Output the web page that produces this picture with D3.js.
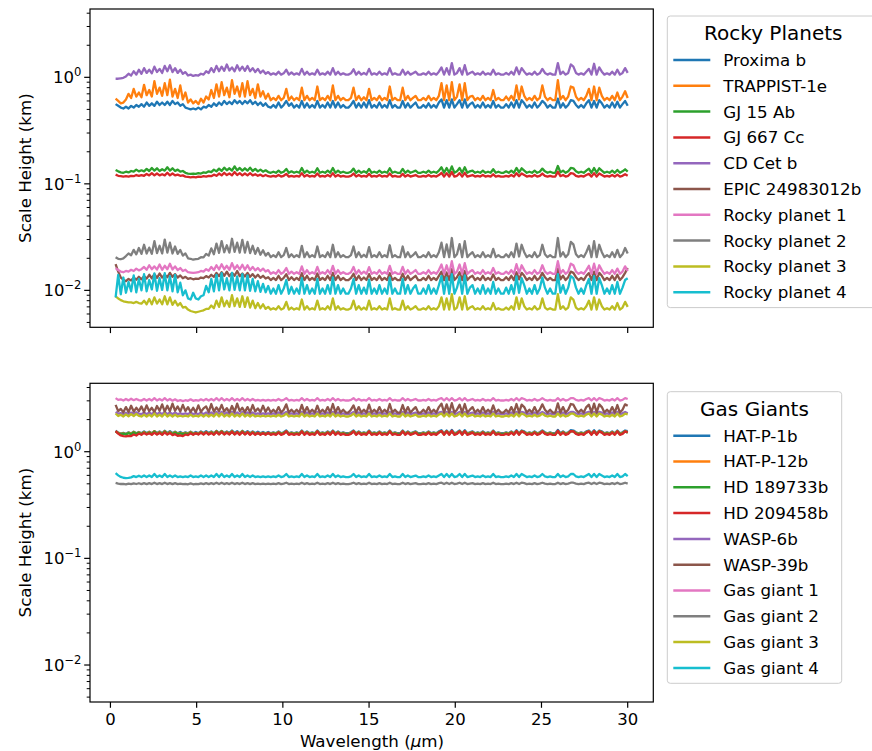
<!DOCTYPE html>
<html>
<head>
<meta charset="utf-8">
<script src="https://cdn.jsdelivr.net/npm/d3@7"></script>
<style>
  body { margin: 0; background: #fff; }
  text { font-family: "DejaVu Sans", sans-serif; fill: #000; }
</style>
</head>
<body>
<div id="chart"></div>
<script>
// Wavelength grid (um): 0.3 to 30 in steps of 0.15 (199 samples)
const wavelength = d3.range(199).map(i => +(0.3 + 0.15 * i).toFixed(2));

const xTicks = [0, 5, 10, 15, 20, 25, 30];
const yTicks = [0.01, 0.1, 1];
const yTickExp = ["\u22122", "\u22121", "0"];

const colors = ["#1f77b4", "#ff7f0e", "#2ca02c", "#d62728", "#9467bd",
                "#8c564b", "#e377c2", "#7f7f7f", "#bcbd22", "#17becf"];

// ---- Rocky planets: scale height, stored as integers in the unit given in rockyUnits (km) ----
const rockyNames = ["Proxima b", "TRAPPIST-1e", "GJ 15 Ab", "GJ 667 Cc", "CD Cet b",
                    "EPIC 24983012b", "Rocky planet 1", "Rocky planet 2", "Rocky planet 3", "Rocky planet 4"];
const rockyUnits = [0.01, 0.01, 0.001, 0.001, 0.01, 1e-4, 1e-4, 1e-4, 1e-4, 1e-4];

const proximaB = [
  56,54,52,51,53,51,54,52,55,53, 56,53,58,54,57,54,59,55,58,55,
  59,55,60,56,58,54,56,52,51,50, 51,50,52,50,53,52,55,53,57,54,
  58,55,60,56,59,56,61,57,60,56, 60,57,61,56,59,55,58,54,57,53,
  52,55,52,58,52,55,60,54,57,52, 55,52,60,52,57,52,55,52,60,52,
  55,52,58,52,60,52,58,52,55,52, 52,55,60,52,57,52,58,52,61,52,
  55,52,58,52,55,52,61,52,55,52, 52,60,52,57,52,55,58,52,52,55,
  52,57,52,55,52,58,62,52,61,52, 62,52,56,61,52,62,52,56,58,52,
  55,52,58,52,55,52,60,52,55,52, 52,56,52,58,52,61,52,61,57,52,
  55,52,58,52,55,60,57,52,55,52, 52,63,52,57,52,55,61,60,55,52,
  55,52,57,61,52,60,52,61,57,52, 55,52,58,52,59,52,56,60,54];

const trappist1e = [
  63,60,57,58,62,70,64,78,66,72, 65,85,68,76,66,92,70,80,67,88,
  68,95,66,78,64,84,62,72,58,62, 57,60,56,63,58,66,62,76,64,86,
  66,90,68,80,65,94,70,82,66,88, 66,92,68,78,64,86,66,74,63,70,
  61,64,61,67,61,64,78,61,66,61, 64,61,80,61,67,61,64,61,82,61,
  64,61,67,61,84,61,67,61,64,61, 61,64,80,61,67,61,65,61,78,61,
  64,61,67,61,64,61,82,61,64,61, 61,80,61,67,61,64,67,61,61,64,
  61,67,61,64,61,67,88,61,84,61, 90,61,66,86,61,88,61,66,67,61,
  64,61,67,61,64,61,76,61,64,61, 61,66,61,67,61,84,62,82,67,61,
  64,61,67,61,64,84,66,61,64,61, 61,94,62,67,61,66,82,80,66,61,
  64,61,67,78,61,82,61,80,67,61, 64,61,67,61,72,61,66,74,64];

const gj15Ab = [
  135,131,128,127,130,128,132,130,136,131, 134,131,138,132,141,133,140,132,137,133,
  143,133,140,132,136,130,132,127,125,124, 125,124,126,125,128,127,131,129,136,131,
  139,132,142,134,140,133,146,134,141,133, 140,133,142,132,138,131,136,130,134,129,
  127,130,127,133,127,130,138,127,131,127, 130,127,141,127,133,127,130,127,140,127,
  130,127,133,127,141,127,133,127,130,127, 127,130,139,127,133,127,131,127,138,127,
  130,127,133,127,130,127,140,127,130,127, 127,138,127,133,127,130,133,127,127,130,
  127,133,127,130,127,133,143,127,141,127, 146,127,131,141,127,143,127,131,133,127,
  130,127,133,127,130,127,137,127,130,127, 127,131,127,133,127,141,128,140,133,127,
  130,127,133,127,130,139,131,127,130,127, 127,147,128,133,127,131,141,140,131,127,
  130,127,133,139,127,141,127,140,133,127, 130,127,133,127,135,127,131,137,130];

const gj667Cc = [
  122,119,118,117,118,117,119,118,121,119, 121,119,124,120,126,120,125,120,123,120,
  127,120,125,120,122,119,120,117,116,115, 116,115,117,116,118,117,119,118,122,119,
  125,120,127,121,125,120,129,121,126,120, 125,120,126,120,123,119,122,118,121,118,
  117,119,117,121,117,119,124,117,119,117, 119,117,126,117,121,117,119,117,125,117,
  119,117,121,117,126,117,121,117,119,117, 117,119,125,117,121,117,119,117,124,117,
  119,117,121,117,119,117,125,117,119,117, 117,124,117,121,117,119,121,117,117,119,
  117,121,117,119,117,121,127,117,126,117, 129,117,119,126,117,127,117,119,121,117,
  119,117,121,117,119,117,123,117,119,117, 117,119,117,121,117,126,118,125,121,117,
  119,117,121,117,119,125,119,117,119,117, 117,130,118,121,117,119,126,125,119,117,
  119,117,121,124,117,126,117,125,121,117, 119,117,121,117,122,117,119,123,119];

const cdCetB = [
  97,97,98,99,102,108,104,114,106,118, 108,122,110,118,109,126,112,120,110,128,
  114,130,112,122,110,118,108,112,104,106, 103,105,104,108,106,114,110,122,112,128,
  114,126,115,132,116,124,114,130,116,126, 115,128,114,122,112,120,110,116,108,112,
  106,109,106,113,106,109,118,106,111,106, 109,106,120,106,113,106,109,106,118,106,
  109,106,113,106,122,106,113,106,109,106, 106,109,119,106,113,106,110,106,120,106,
  109,106,113,106,109,106,122,106,109,106, 106,118,106,113,106,109,113,106,106,109,
  106,113,106,109,106,113,124,106,122,106, 136,106,110,122,106,130,106,110,113,106,
  109,106,113,106,109,106,118,106,109,106, 106,110,106,113,106,124,107,122,113,106,
  109,106,113,106,109,120,110,106,109,106, 106,136,107,113,106,110,132,126,110,106,
  109,106,113,120,106,134,106,124,113,106, 109,106,113,106,118,106,110,122,110];

const epic24983012b = [
  176,150,132,126,122,128,124,132,126,134, 127,136,129,140,130,142,131,144,132,140,
  133,146,134,142,132,138,130,134,128,130, 127,129,128,132,130,136,132,140,134,146,
  136,148,137,150,136,146,137,152,136,144, 135,146,134,142,132,140,131,137,129,133,
  125,131,125,137,125,131,142,125,133,125, 131,125,145,125,137,125,131,125,144,125,
  131,125,137,125,146,125,137,125,131,125, 125,131,143,125,137,125,132,125,142,125,
  131,125,137,125,131,125,145,125,131,125, 125,143,125,137,125,131,137,125,125,131,
  125,137,125,131,125,137,150,125,147,125, 158,125,133,148,125,152,125,133,137,125,
  131,125,137,125,131,125,141,125,131,125, 125,133,125,137,125,148,127,146,137,125,
  131,125,137,125,131,146,133,125,131,125, 125,160,127,137,125,133,150,146,133,125,
  131,125,137,145,125,150,125,146,137,125, 131,125,137,125,140,125,133,146,162];

const rocky1 = [
  162,155,150,148,152,150,156,152,160,154, 158,166,156,172,158,168,157,175,156,170,
  158,178,157,168,155,162,152,156,148,147, 146,147,148,152,150,158,153,166,155,172,
  157,176,158,170,156,180,158,172,157,174, 156,172,155,166,154,162,152,160,150,155,
  143,148,143,155,143,148,162,143,150,143, 148,143,168,143,155,143,148,143,166,143,
  148,143,155,143,170,143,155,143,148,143, 143,148,166,143,155,143,150,143,165,143,
  148,143,155,143,148,143,170,143,148,143, 143,166,143,155,143,148,155,143,143,148,
  143,155,143,148,143,155,175,143,172,143, 188,143,150,175,143,180,143,150,155,143,
  148,143,155,143,148,143,162,143,148,143, 143,150,143,155,143,176,145,172,155,143,
  148,143,155,143,148,172,150,143,148,143, 143,188,145,155,143,150,178,172,150,143,
  148,143,155,170,143,178,143,172,155,143, 148,143,155,143,160,143,150,168,152];

const rocky2 = [
  205,198,196,200,210,222,214,240,218,250, 220,268,222,252,220,290,224,262,222,300,
  226,280,222,258,220,240,212,222,200,198, 194,196,198,205,204,220,212,248,218,275,
  225,290,228,265,226,305,230,280,226,298, 226,285,224,262,220,250,216,238,212,225,
  205,214,205,228,205,214,250,205,218,205, 214,205,262,205,228,205,214,205,258,205,
  214,205,228,205,268,205,228,205,214,205, 205,214,258,205,228,205,216,205,255,205,
  214,205,228,205,214,205,265,205,214,205, 205,258,205,228,205,214,228,205,205,214,
  205,228,205,214,205,228,280,205,270,205, 310,205,218,272,205,290,205,218,228,205,
  214,205,228,205,214,205,245,205,214,205, 205,218,205,228,205,275,208,268,228,205,
  214,205,228,205,214,268,218,205,214,205, 205,310,208,228,205,218,285,270,218,205,
  214,205,228,262,205,290,205,268,228,205, 214,205,228,205,240,205,218,250,222];

const rocky3 = [
  88,84,81,79,78,77,77,76,78,76, 75,80,74,83,74,86,75,82,74,88,
  74,86,73,80,72,76,69,70,66,64, 63,62,63,64,65,67,67,72,68,80,
  70,86,71,80,70,90,71,84,70,88, 70,86,69,80,68,76,68,74,67,70,
  66,68,66,71,66,68,78,66,69,66, 68,66,82,66,71,66,68,66,80,66,
  68,66,71,66,84,66,71,66,68,66, 66,68,80,66,71,66,69,66,80,66,
  68,66,71,66,68,66,84,66,68,66, 66,80,66,71,66,68,71,66,66,68,
  66,71,66,68,66,71,86,66,84,66, 92,66,69,86,66,88,66,69,71,66,
  68,66,71,66,68,66,76,66,68,66, 66,69,66,71,66,86,67,84,71,66,
  68,66,71,66,68,84,69,66,68,66, 66,92,67,71,66,69,86,82,69,66,
  68,66,71,80,66,86,66,82,71,66, 68,66,71,66,76,66,69,78,70];

const rocky4 = [
  86,140,92,132,95,120,98,138,96,128, 100,142,98,125,102,144,99,130,101,145,
  100,136,98,140,96,118,90,100,84,82, 95,84,82,88,90,110,96,128,98,140,
  100,145,102,130,100,146,101,135,100,142, 100,138,99,128,98,122,97,115,96,110,
  93,104,93,112,93,104,125,93,108,93, 104,93,130,93,112,93,104,93,128,93,
  104,93,112,93,132,93,112,93,104,93, 93,104,128,93,112,93,106,93,126,93,
  104,93,112,93,104,93,132,93,104,93, 93,128,93,112,93,104,112,93,93,104,
  93,112,93,104,93,112,136,93,132,93, 142,93,106,134,93,138,93,106,112,93,
  104,93,112,93,104,93,120,93,104,93, 93,106,93,112,93,135,95,130,112,93,
  104,93,112,93,104,132,106,93,104,93, 93,142,95,112,93,106,136,130,106,93,
  104,93,112,128,93,136,93,130,112,93, 104,93,112,93,120,93,106,125,130];

// ---- Gas giants: scale height, stored as integers in the unit given in gasUnits (km) ----
const gasNames = ["HAT-P-1b", "HAT-P-12b", "HD 189733b", "HD 209458b", "WASP-6b",
                  "WASP-39b", "Gas giant 1", "Gas giant 2", "Gas giant 3", "Gas giant 4"];
const gasUnits = [0.01, 0.01, 0.01, 0.01, 0.01, 0.01, 0.01, 0.001, 0.01, 0.001];

const hatP1b = [
  158,151,148,150,147,152,148,154,149,153, 149,155,150,154,149,156,150,155,149,157,
  150,156,149,154,149,153,148,152,149,154, 149,153,149,155,150,156,150,155,149,157,
  150,157,150,155,150,158,150,156,149,157, 150,156,149,155,149,154,149,153,149,153,
  149,152,149,155,149,152,158,149,152,149, 152,149,158,149,155,149,152,149,158,149,
  152,149,155,149,158,149,155,149,152,149, 149,152,158,149,155,149,152,149,158,149,
  152,149,155,149,152,149,158,149,152,149, 149,158,149,155,149,152,155,149,149,152,
  149,155,149,152,149,155,159,149,158,149, 160,149,152,158,149,159,149,152,155,149,
  152,149,155,149,152,149,158,149,152,149, 149,152,149,155,149,159,149,158,155,149,
  152,149,155,149,152,158,152,149,152,149, 149,160,149,155,149,152,159,158,152,149,
  152,149,155,158,149,159,149,158,155,149, 152,149,155,149,158,149,152,158,156];

const hatP12b = [
  156,150,147,149,146,151,147,153,148,152, 147,153,147,153,147,156,147,153,147,156,
  147,153,147,153,147,150,147,150,147,153, 147,150,147,153,147,153,147,153,147,156,
  147,156,147,153,147,156,147,153,147,156, 147,153,147,153,147,150,147,150,147,150,
  147,150,147,153,147,150,156,147,150,147, 150,147,156,147,153,147,150,147,156,147,
  150,147,153,147,156,147,153,147,150,147, 147,150,156,147,153,147,150,147,156,147,
  150,147,153,147,150,147,156,147,150,147, 147,156,147,153,147,150,153,147,147,150,
  147,153,147,150,147,153,156,147,156,147, 156,147,150,156,147,156,147,150,153,147,
  150,147,153,147,150,147,156,147,150,147, 147,150,147,153,147,156,147,156,153,147,
  150,147,153,147,150,156,150,147,150,147, 147,156,147,153,147,150,156,156,150,147,
  150,147,153,156,147,156,147,156,153,147, 150,147,153,147,156,147,150,156,152];

const hd189733b = [
  155,149,146,148,145,150,146,152,147,151, 146,152,146,152,146,155,146,152,146,155,
  146,152,146,152,146,149,146,149,146,152, 146,149,146,152,146,152,146,152,146,155,
  146,155,146,152,146,155,146,152,146,155, 146,152,146,152,146,149,146,149,146,149,
  146,149,146,152,146,149,155,146,149,146, 149,146,155,146,152,146,149,146,155,146,
  149,146,152,146,155,146,152,146,149,146, 146,149,155,146,152,146,149,146,155,146,
  149,146,152,146,149,146,155,146,149,146, 146,155,146,152,146,149,152,146,146,149,
  146,152,146,149,146,152,155,146,155,146, 155,146,149,155,146,155,146,149,152,146,
  149,146,152,146,149,146,155,146,149,146, 146,149,146,152,146,155,146,155,152,146,
  149,146,152,146,149,155,149,146,149,146, 146,155,146,152,146,149,155,155,149,146,
  149,146,152,155,146,155,146,155,152,146, 149,146,152,146,155,146,149,155,151];

const hd209458b = [
  156,148,142,140,139,141,140,145,142,148, 144,150,145,149,144,151,145,150,144,152,
  145,150,143,146,141,142,140,145,143,149, 144,149,145,151,145,152,145,150,144,153,
  145,153,145,151,145,154,145,152,144,153, 145,152,144,151,144,150,144,149,144,150,
  144,147,144,151,144,147,155,144,147,144, 147,144,155,144,151,144,147,144,155,144,
  147,144,151,144,155,144,151,144,147,144, 144,147,155,144,151,144,147,144,155,144,
  147,144,151,144,147,144,155,144,147,144, 144,155,144,151,144,147,151,144,144,147,
  144,151,144,147,144,151,156,144,155,144, 157,144,147,155,144,156,144,147,151,144,
  147,144,151,144,147,144,155,144,147,144, 144,147,144,151,144,156,144,155,151,144,
  147,144,151,144,147,155,147,144,147,144, 144,157,144,151,144,147,156,155,147,144,
  147,144,151,155,144,156,144,155,151,144, 147,144,151,144,155,144,147,155,152];

const wasp6b = [
  236,227,230,225,232,226,233,227,234,228, 225,233,225,233,225,236,225,233,225,236,
  225,233,225,233,225,229,225,229,225,233, 225,229,225,233,225,233,225,233,225,236,
  225,236,225,233,225,236,225,233,225,236, 225,233,225,233,225,229,225,229,225,229,
  225,229,225,233,225,229,236,225,229,225, 229,225,236,225,233,225,229,225,236,225,
  229,225,233,225,236,225,233,225,229,225, 225,229,236,225,233,225,229,225,236,225,
  229,225,233,225,229,225,236,225,229,225, 225,236,225,233,225,229,233,225,225,229,
  225,233,225,229,225,233,236,225,236,225, 236,225,229,236,225,236,225,229,233,225,
  229,225,233,225,229,225,236,225,229,225, 225,229,225,233,225,236,225,236,233,225,
  229,225,233,225,229,236,229,225,229,225, 225,236,225,233,225,229,236,236,229,225,
  229,225,233,236,225,236,225,236,233,225, 229,225,233,225,236,225,229,236,229];

const wasp39b = [
  275,240,252,234,262,236,270,238,258,240, 266,236,272,240,258,235,268,242,278,238,
  270,240,282,242,266,238,275,240,262,236, 258,234,272,236,255,266,235,280,238,260,
  240,275,238,256,234,268,236,282,240,258, 235,262,234,274,238,255,235,270,236,260,
  233,248,233,262,233,248,278,233,248,233, 248,233,275,233,262,233,248,233,270,233,
  248,233,262,233,280,233,262,233,248,233, 233,248,272,233,262,233,248,233,276,233,
  248,233,262,233,248,233,280,233,248,233, 233,274,233,262,233,248,262,233,233,248,
  233,262,233,248,233,262,282,233,278,233, 285,233,248,276,233,280,233,248,262,233,
  248,233,262,233,248,233,272,233,248,233, 233,248,233,262,233,280,233,276,262,233,
  248,233,262,233,248,278,248,233,248,233, 233,284,233,262,233,248,280,276,248,233,
  248,233,262,276,233,282,233,278,262,233, 248,233,262,233,274,233,248,278,270];

const gasGiant1 = [
  318,306,310,302,312,303,314,304,312,305, 302,312,302,312,302,318,302,312,302,318,
  302,312,301,310,299,305,298,304,300,310, 300,305,301,310,302,312,302,312,302,318,
  302,318,302,312,302,318,302,312,302,318, 302,312,302,312,302,306,302,306,302,306,
  302,306,302,312,302,306,318,302,306,302, 306,302,318,302,312,302,306,302,318,302,
  306,302,312,302,318,302,312,302,306,302, 302,306,318,302,312,302,306,302,318,302,
  306,302,312,302,306,302,318,302,306,302, 302,318,302,312,302,306,312,302,302,306,
  302,312,302,306,302,312,318,302,318,302, 318,302,306,318,302,318,302,306,312,302,
  306,302,312,302,306,302,318,302,306,302, 302,306,302,312,302,318,302,318,312,302,
  306,302,312,302,306,318,306,302,306,302, 302,318,302,312,302,306,318,318,306,302,
  306,302,312,318,302,318,302,318,312,302, 306,302,312,302,318,302,306,318,312];

const gasGiant2 = [
  510,502,498,500,495,503,497,505,498,506, 497,507,497,507,497,512,497,507,497,512,
  497,507,497,507,497,502,496,500,495,505, 495,500,496,504,497,507,497,507,497,512,
  497,512,497,507,497,512,497,507,497,512, 497,507,497,507,497,502,497,502,497,502,
  497,502,497,507,497,502,512,497,502,497, 502,497,512,497,507,497,502,497,512,497,
  502,497,507,497,512,497,507,497,502,497, 497,502,512,497,507,497,502,497,512,497,
  502,497,507,497,502,497,512,497,502,497, 497,512,497,507,497,502,507,497,497,502,
  497,507,497,502,497,507,512,497,512,497, 512,497,502,512,497,512,497,502,507,497,
  502,497,507,497,502,497,512,497,502,497, 497,502,497,507,497,512,497,512,507,497,
  502,497,507,497,502,512,502,497,502,497, 497,512,497,507,497,502,512,512,502,497,
  502,497,507,512,497,512,497,512,507,497, 502,497,507,497,512,497,502,512,502];

const gasGiant3 = [
  228,216,222,214,224,215,225,216,226,217, 214,223,214,223,214,228,214,223,214,228,
  214,223,214,223,214,218,214,218,214,223, 214,218,214,223,214,223,214,223,214,228,
  214,228,214,223,214,228,214,223,214,228, 214,223,214,223,214,218,214,218,214,218,
  214,218,214,223,214,218,228,214,218,214, 218,214,228,214,223,214,218,214,228,214,
  218,214,223,214,228,214,223,214,218,214, 214,218,228,214,223,214,218,214,228,214,
  218,214,223,214,218,214,228,214,218,214, 214,228,214,223,214,218,223,214,214,218,
  214,223,214,218,214,223,228,214,228,214, 228,214,218,228,214,228,214,218,223,214,
  218,214,223,214,218,214,228,214,218,214, 214,218,214,223,214,228,214,228,223,214,
  218,214,223,214,218,228,218,214,218,214, 214,228,214,223,214,218,228,228,218,214,
  218,214,223,228,214,228,214,228,223,214, 218,214,223,214,228,214,218,228,224];

const gasGiant4 = [
  630,600,580,570,565,568,575,590,578,595, 578,598,578,598,578,618,578,598,578,618,
  578,598,578,598,578,588,578,588,578,598, 578,588,578,598,578,598,578,598,578,618,
  578,618,578,598,578,618,578,598,578,618, 578,598,578,598,578,588,578,588,578,588,
  578,588,578,598,578,588,618,578,588,578, 588,578,618,578,598,578,588,578,618,578,
  588,578,598,578,618,578,598,578,588,578, 578,588,618,578,598,578,588,578,618,578,
  588,578,598,578,588,578,618,578,588,578, 578,618,578,598,578,588,598,578,578,588,
  578,598,578,588,578,598,618,578,618,578, 618,578,588,618,578,618,578,588,598,578,
  588,578,598,578,588,578,618,578,588,578, 578,588,578,598,578,618,578,618,598,578,
  588,578,598,578,588,618,588,578,588,578, 578,618,578,598,578,588,618,618,588,578,
  588,578,598,618,578,618,578,618,598,578, 588,578,598,578,618,578,588,618,590];

const rockySeries = [proximaB, trappist1e, gj15Ab, gj667Cc, cdCetB,
                     epic24983012b, rocky1, rocky2, rocky3, rocky4];
const gasSeries = [hatP1b, hatP12b, hd189733b, hd209458b, wasp6b,
                   wasp39b, gasGiant1, gasGiant2, gasGiant3, gasGiant4];

// ---- Layout ----
const width = 872, height = 751;
const svg = d3.select("#chart").append("svg")
  .attr("width", width)
  .attr("height", height);

const x = d3.scaleLinear().domain([-1.185, 31.485]).range([90, 653.3]);

const panels = [
  { names: rockyNames, series: rockySeries, units: rockyUnits, top: 9, bottom: 327.3,
    title: "Rocky Planets", legendTop: 16, legendW: 212, showX: false },
  { names: gasNames, series: gasSeries, units: gasUnits, top: 383.3, bottom: 702,
    title: "Gas Giants", legendTop: 391.7, legendW: 174.4, showX: true }
];

panels.forEach(p => {
  const y = d3.scaleLog().domain([0.0045, 4.38]).range([p.bottom, p.top]);
  const g = svg.append("g");

  // spectra
  const line = d3.line()
    .defined((d, i) => i < wavelength.length)
    .x((d, i) => x(wavelength[i]))
    .y(d => y(d));

  p.series.forEach((s, k) => {
    const vals = s.map(v => v * p.units[k]);
    g.append("path")
      .datum(vals)
      .attr("d", line)
      .attr("fill", "none")
      .attr("stroke", colors[k])
      .attr("stroke-width", 2.3)
      .attr("stroke-linejoin", "round");
  });

  // frame
  g.append("rect")
    .attr("x", x.range()[0])
    .attr("y", p.top)
    .attr("width", x.range()[1] - x.range()[0])
    .attr("height", p.bottom - p.top)
    .attr("fill", "none")
    .attr("stroke", "#000")
    .attr("stroke-width", 1.2);

  // x ticks
  xTicks.forEach(t => {
    g.append("line")
      .attr("x1", x(t)).attr("x2", x(t))
      .attr("y1", p.bottom).attr("y2", p.bottom + 5.8)
      .attr("stroke", "#000").attr("stroke-width", 1.2);
    if (p.showX) {
      g.append("text")
        .attr("x", x(t)).attr("y", p.bottom + 22.5)
        .attr("text-anchor", "middle")
        .style("font-size", "16.5px")
        .text(t);
    }
  });

  // y minor ticks
  const [lo, hi] = y.domain();
  for (let e = -3; e <= 0; e++) {
    for (let m = 2; m <= 9; m++) {
      const v = m * Math.pow(10, e);
      if (v < lo || v > hi) continue;
      g.append("line")
        .attr("x1", 90).attr("x2", 90 - 3.3)
        .attr("y1", y(v)).attr("y2", y(v))
        .attr("stroke", "#000").attr("stroke-width", 1);
    }
  }

  // y major ticks and labels
  yTicks.forEach((t, i) => {
    g.append("line")
      .attr("x1", 90).attr("x2", 90 - 5.8)
      .attr("y1", y(t)).attr("y2", y(t))
      .attr("stroke", "#000").attr("stroke-width", 1.2);
    const lbl = g.append("text")
      .attr("x", 81.5).attr("y", y(t) + 6)
      .attr("text-anchor", "end")
      .style("font-size", "16.5px");
    lbl.append("tspan").text("10");
    lbl.append("tspan")
      .attr("dy", -7)
      .style("font-size", "11.6px")
      .text(yTickExp[i]);
  });

  // y label
  g.append("text")
    .attr("transform", `translate(31,${(p.top + p.bottom) / 2}) rotate(-90)`)
    .attr("text-anchor", "middle")
    .style("font-size", "16.7px")
    .text("Scale Height (km)");

  // legend
  const lg = svg.append("g").attr("transform", `translate(667.3,${p.legendTop})`);
  lg.append("rect")
    .attr("width", p.legendW).attr("height", 291.6)
    .attr("rx", 3).attr("ry", 3)
    .attr("fill", "#fff").attr("fill-opacity", 0.8)
    .attr("stroke", "#cccccc").attr("stroke-width", 1);
  lg.append("text")
    .attr("x", p.legendW / 2).attr("y", 24)
    .attr("text-anchor", "middle")
    .style("font-size", "20px")
    .text(p.title);
  p.names.forEach((n, k) => {
    const cy = 44 + k * 25.8;
    lg.append("line")
      .attr("x1", 6).attr("x2", 43)
      .attr("y1", cy).attr("y2", cy)
      .attr("stroke", colors[k]).attr("stroke-width", 2.5);
    lg.append("text")
      .attr("x", 56).attr("y", cy + 6)
      .style("font-size", "16.7px")
      .text(n);
  });
});

// x axis label
const xl = svg.append("text")
  .attr("x", 372).attr("y", 746.5)
  .attr("text-anchor", "middle")
  .style("font-size", "16.7px");
xl.append("tspan").text("Wavelength (");
xl.append("tspan").style("font-style", "italic").text("\u03bc");
xl.append("tspan").text("m)");
</script>
</body>
</html>
